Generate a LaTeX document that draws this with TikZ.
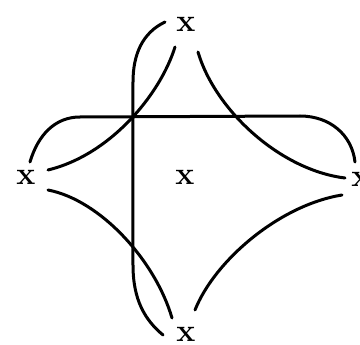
\documentclass[tikz,border=0pt]{standalone}
\begin{document}
\begin{tikzpicture}[x=1pt,y=-1pt,
  lbl/.style={font=\fontsize{32}{32}\selectfont\bfseries, inner sep=0pt},
  arc/.style={line width=3pt, line cap=round}]
\useasboundingbox (0,0) rectangle (360,345);
\fill[white] (0,0) rectangle (360,345);
\node[lbl] (top) at (186,24) {x};
\node[lbl] (left) at (26,177) {x};
\node[lbl] (mid) at (185,177) {x};
\node[lbl] (right) at (361,179) {x};
\node[lbl] (bot) at (186,334) {x};
\coordinate (a1) at (165,22);
\coordinate (a2) at (163,335);
\draw[arc] (a1) .. controls (142,33) and (133,55) .. (133,82) -- (133,265) .. controls (133,300) and (145,320) .. (a2);
\coordinate (b1) at (175,47);
\coordinate (b2) at (48,170);
\draw[arc] (b1) .. controls (160,95) and (110,155) .. (b2);
\coordinate (c1) at (198,52);
\coordinate (c2) at (345,178);
\draw[arc] (c1) .. controls (215,110) and (280,170) .. (c2);
\coordinate (d1) at (30,162);
\coordinate (d2) at (355,162);
\draw[arc] (d1) .. controls (38,135) and (55,117) .. (80,117) -- (300,116) .. controls (330,116) and (352,135) .. (d2);
\coordinate (e1) at (48,190);
\coordinate (e2) at (172,318);
\draw[arc] (e1) .. controls (100,200) and (155,260) .. (e2);
\coordinate (f1) at (342,195);
\coordinate (f2) at (195,310);
\draw[arc] (f1) .. controls (280,205) and (215,260) .. (f2);
\end{tikzpicture}
\end{document}
